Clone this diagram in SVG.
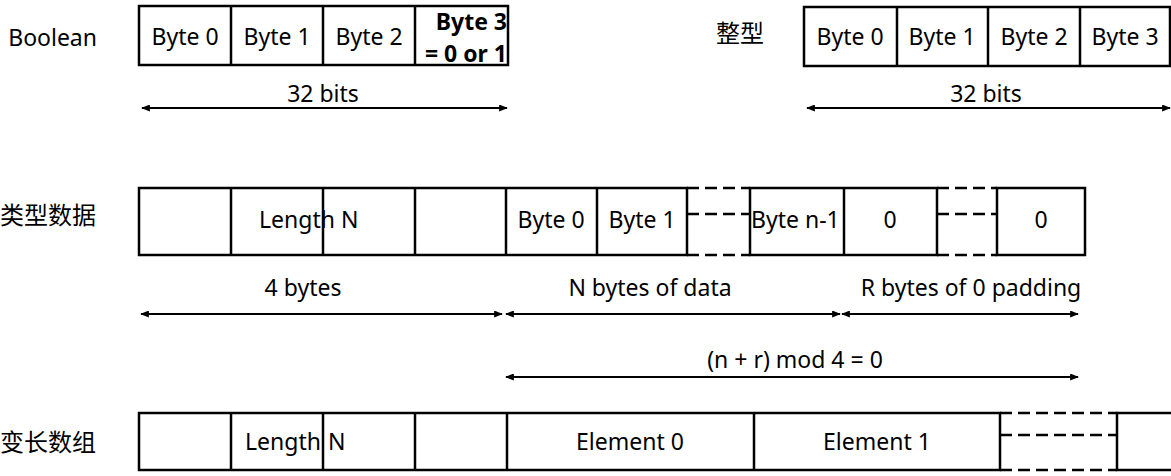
<svg xmlns="http://www.w3.org/2000/svg" width="1171" height="476" viewBox="0 0 1171 476">
<defs>
<marker id="ah" viewBox="0 0 10 8" refX="9" refY="4" markerWidth="9" markerHeight="7" markerUnits="userSpaceOnUse" orient="auto-start-reverse">
<path d="M0,0 L10,4 L0,8 Z" fill="#000"/>
</marker>
<style>
text{font-family:"Noto Sans","Open Sans","Noto Sans CJK SC",sans-serif;font-size:23px;fill:#000}
.cjk{font-family:"Noto Sans CJK SC","Noto Sans",sans-serif;font-size:24px}
.c{text-anchor:middle}
.r{text-anchor:end}
.b{font-weight:bold}
.box{fill:#fff;stroke:#000;stroke-width:2.5}
.div{stroke:#000;stroke-width:2.5}
.dash{stroke:#000;stroke-width:2.5;stroke-dasharray:12 6;fill:none}
.arr{stroke:#000;stroke-width:1.8;fill:none;marker-start:url(#ah);marker-end:url(#ah)}
</style>
</defs>
<rect width="1171" height="476" fill="#fff"/>

<g id="boolean">
<text x="97" y="46" class="r">Boolean</text>
<rect x="139" y="6" width="369" height="59" class="box"/>
<line x1="231" y1="6" x2="231" y2="65" class="div"/>
<line x1="323" y1="6" x2="323" y2="65" class="div"/>
<line x1="415" y1="6" x2="415" y2="65" class="div"/>
<text x="185" y="45" class="c">Byte 0</text>
<text x="277" y="45" class="c">Byte 1</text>
<text x="369" y="45" class="c">Byte 2</text>
<text x="507" y="30" class="r b">Byte 3</text>
<text x="507" y="62" class="r b">= 0 or 1</text>
<text x="323" y="102" class="c">32 bits</text>
</g>

<g id="integer">
<text x="764" y="42" class="cjk r">整型</text>
<rect x="804" y="7" width="367" height="59" class="box"/>
<line x1="897" y1="7" x2="897" y2="66" class="div"/>
<line x1="988" y1="7" x2="988" y2="66" class="div"/>
<line x1="1080" y1="7" x2="1080" y2="66" class="div"/>
<line x1="1170" y1="7" x2="1170" y2="66" class="div"/>
<text x="850" y="45" class="c">Byte 0</text>
<text x="942" y="45" class="c">Byte 1</text>
<text x="1034" y="45" class="c">Byte 2</text>
<text x="1125" y="45" class="c">Byte 3</text>
<text x="986" y="102" class="c">32 bits</text>
</g>

<g id="string">
<text x="96" y="224" class="cjk r">类型数据</text>
<rect x="139" y="188" width="548" height="67" class="box"/>
<line x1="231" y1="188" x2="231" y2="255" class="div"/>
<line x1="415" y1="188" x2="415" y2="255" class="div"/>
<line x1="506" y1="188" x2="506" y2="255" class="div"/>
<line x1="597" y1="188" x2="597" y2="255" class="div"/>
<text x="259" y="228">Length N</text>
<line x1="323" y1="188" x2="323" y2="255" class="div"/>
<text x="551" y="228" class="c">Byte 0</text>
<text x="642" y="228" class="c">Byte 1</text>
<path d="M687,188 H750 M687,214 H750 M687,255 H750" class="dash"/>
<rect x="750" y="188" width="187" height="67" class="box"/>
<line x1="844" y1="188" x2="844" y2="255" class="div"/>
<text x="751" y="228">Byte n-1</text>
<text x="890" y="228" class="c">0</text>
<path d="M937,188 H997 M937,214 H997 M937,255 H997" class="dash"/>
<rect x="997" y="188" width="88" height="67" class="box"/>
<text x="1041" y="228" class="c">0</text>
<text x="303" y="296" class="c">4 bytes</text>
<text x="650" y="296" class="c">N bytes of data</text>
<text x="971" y="296" class="c">R bytes of 0 padding</text>
<text x="795" y="368" class="c">(n + r) mod 4 = 0</text>
</g>

<g id="array">
<text x="96" y="451" class="cjk r">变长数组</text>
<rect x="139" y="413" width="861" height="57" class="box"/>
<line x1="231" y1="413" x2="231" y2="470" class="div"/>
<line x1="323" y1="413" x2="323" y2="470" class="div"/>
<line x1="415" y1="413" x2="415" y2="470" class="div"/>
<line x1="507" y1="413" x2="507" y2="470" class="div"/>
<line x1="754" y1="413" x2="754" y2="470" class="div"/>
<text x="245" y="450">Length</text>
<text x="328" y="450">N</text>
<text x="630" y="450" class="c">Element 0</text>
<text x="877" y="450" class="c">Element 1</text>
<path d="M1000,413 H1117 M1000,435 H1117 M1000,470 H1117" class="dash"/>
<rect x="1117" y="413" width="80" height="57" class="box"/>
</g>

<g id="connectors">
<line x1="142" y1="108" x2="507" y2="108" class="arr"/>
<line x1="807" y1="108" x2="1170" y2="108" class="arr"/>
<line x1="141" y1="314" x2="502" y2="314" class="arr"/>
<line x1="506" y1="314" x2="840" y2="314" class="arr"/>
<line x1="842" y1="314" x2="1078" y2="314" class="arr"/>
<line x1="506" y1="377" x2="1078" y2="377" class="arr"/>
</g>
</svg>
